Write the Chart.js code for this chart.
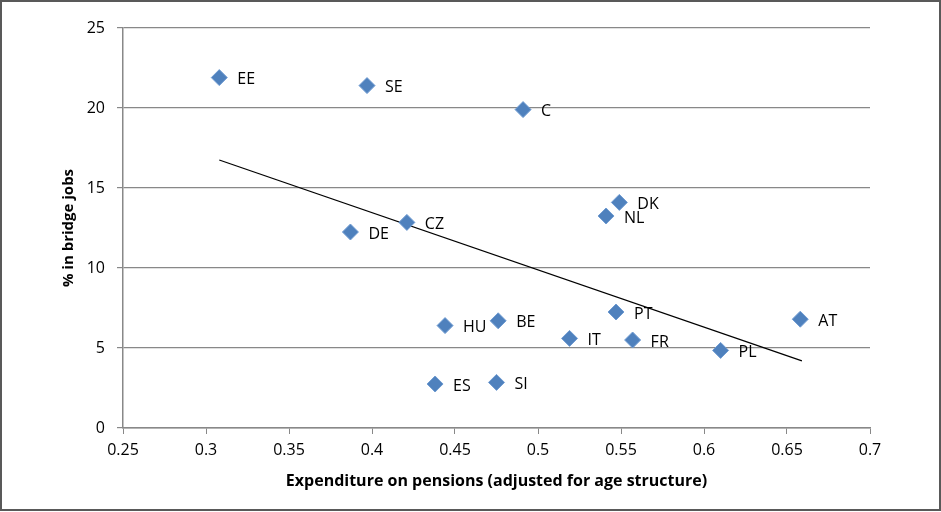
<!DOCTYPE html>
<html>
<head>
<meta charset="utf-8">
<script src="https://cdn.jsdelivr.net/npm/chart.js@4/dist/chart.umd.min.js"></script>
<style>
  html, body { margin: 0; padding: 0; background: #fff; }
  #wrap { width: 941px; height: 512px; position: relative; }
</style>
</head>
<body>
<div id="wrap"><canvas id="grafica"></canvas></div>
<script>
// --- datos ---
const paises = ['EE', 'SE', 'C', 'DK', 'NL', 'CZ', 'DE', 'HU', 'BE', 'PT', 'AT', 'IT', 'FR', 'PL', 'ES', 'SI'];
const gastoPensiones = [0.308, 0.397, 0.491, 0.549, 0.541, 0.421, 0.387, 0.444, 0.476, 0.547, 0.658, 0.519, 0.557, 0.610, 0.438, 0.475];
const pctPuente = [21.9, 21.4, 19.9, 14.1, 13.25, 12.85, 12.25, 6.4, 6.7, 7.25, 6.8, 5.6, 5.5, 4.85, 2.75, 2.85];
const tendenciaX = [0.308, 0.659];
const tendenciaY = [16.75, 4.2];

const FUENTE = '"Open Sans", Lato, sans-serif';
const AZUL = '#4F81BD';
const GRIS = '#888888';

// etiquetas de cada punto
const etiquetasPuntos = {
    id: 'etiquetasPuntos',
    afterDatasetsDraw(chart) {
        const ctx = chart.ctx;
        const meta = chart.getDatasetMeta(0);
        ctx.save();
        ctx.font = '16px ' + FUENTE;
        ctx.fillStyle = '#000';
        ctx.textBaseline = 'middle';
        meta.data.forEach((p, i) => ctx.fillText(paises[i], p.x + 18, p.y + 2));
        ctx.restore();
    }
};

// marco exterior
const marco = {
    id: 'marco',
    afterDraw(chart) {
        const ctx = chart.ctx;
        ctx.save();
        ctx.strokeStyle = '#595959';
        ctx.lineWidth = 2;
        ctx.strokeRect(1, 1, chart.width - 2, chart.height - 3);
        ctx.restore();
    }
};

new Chart(document.getElementById('grafica'), {
    type: 'scatter',
    data: {
        datasets: [{
            data: gastoPensiones.map((x, i) => ({ x, y: pctPuente[i] })),
            backgroundColor: AZUL,
            borderColor: '#6f9bd1',
            borderWidth: 1,
            pointStyle: 'rectRot',
            pointRadius: 8,
            pointHoverRadius: 8
        }, {
            type: 'line',
            data: tendenciaX.map((x, i) => ({ x, y: tendenciaY[i] })),
            borderColor: '#000',
            borderWidth: 1.3,
            pointRadius: 0,
            fill: false
        }]
    },
    options: {
        responsive: true,
        maintainAspectRatio: false,
        animation: false,
        layout: { padding: { top: 28, right: 71, left: 0, bottom: 0 } },
        plugins: { legend: { display: false }, tooltip: { enabled: false } },
        scales: {
            x: {
                type: 'linear', min: 0.25, max: 0.7,
                afterFit: s => { s.height = 84; },
                ticks: { stepSize: 0.05, color: '#000', font: { family: FUENTE, size: 16 }, padding: 7,
                         callback: v => String(Math.round(v * 100) / 100) },
                grid: { drawOnChartArea: false, drawTicks: true, tickLength: 6, color: GRIS },
                border: { color: GRIS, width: 1.5 },
                title: { display: true, text: 'Expenditure on pensions (adjusted for age structure)',
                         color: '#000', font: { family: FUENTE, size: 16, weight: 'bold' }, padding: { top: 0, bottom: 21 } }
            },
            y: {
                min: 0, max: 25,
                afterFit: s => { s.width = 123; },
                ticks: { stepSize: 5, color: '#000', font: { family: FUENTE, size: 16 }, padding: 12 },
                grid: { color: GRIS, lineWidth: 1.2, tickLength: 6 },
                border: { color: GRIS, width: 1.5 },
                title: { display: true, text: '% in bridge jobs',
                         color: '#000', font: { family: FUENTE, size: 15, weight: 'bold' }, padding: { top: 60, bottom: 60 } }
            }
        }
    },
    plugins: [etiquetasPuntos, marco]
});
</script>
</body>
</html>
